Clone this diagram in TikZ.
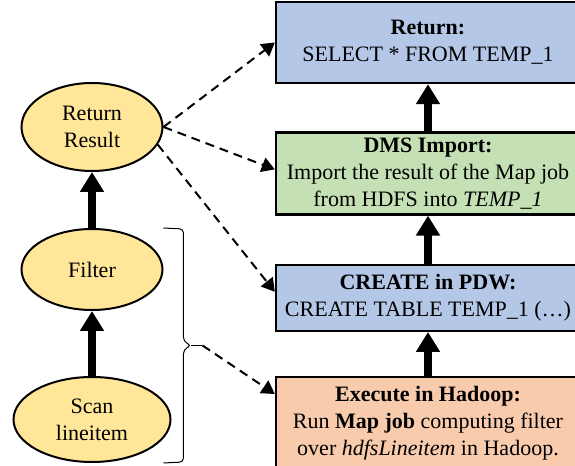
\documentclass[tikz,border=0pt]{standalone}
\usepackage{fontspec}
\setmainfont{Liberation Serif}
\usepackage{tikz}
\usetikzlibrary{shapes.geometric, arrows.meta, positioning, calc}
\definecolor{stepblue}{RGB}{180,199,231}
\definecolor{stepgreen}{RGB}{197,224,180}
\definecolor{steporange}{RGB}{248,203,173}
\definecolor{opyellow}{RGB}{255,230,153}
\tikzset{
  opnode/.style={ellipse, draw=black, line width=1pt, fill=opyellow, inner sep=0pt, minimum width=70.5pt, minimum height=40.5pt, align=center},
  stepbox/.style={rectangle, draw=black, line width=1.2pt, inner sep=0pt, minimum width=152pt, align=center},
  flow/.style={line width=3.8pt, -{Triangle[width=11.5pt,length=10pt]}},
  ship/.style={line width=1pt, dash pattern=on 4.5pt off 3pt, -{Triangle[width=7.5pt,length=6.5pt]}},
}

\begin{document}
\begin{tikzpicture}[font=\fontsize{11}{13.5}\selectfont]
    \useasboundingbox (0,0) rectangle (287.5pt,233pt);
    \node (ret) [stepbox, fill=stepblue, minimum height=40.5pt] at (214pt,211.75pt) {\textbf{Return:}\\SELECT * FROM TEMP\_1};%final step in PDW
    \node (dms) [stepbox, fill=stepgreen, minimum height=41pt, below=23.5pt of ret] {\textbf{DMS Import:}\\Import the result of the Map job\\from HDFS into \textit{TEMP\_1}};%import step
    \node (create) [stepbox, fill=stepblue, minimum height=33pt, below=24pt of dms] {\textbf{CREATE in PDW:}\\CREATE TABLE TEMP\_1 (…)};%temp table
    \node (exec) [stepbox, fill=steporange, minimum height=46.5pt, below=22pt of create] {\textbf{Execute in Hadoop:}\\Run \textbf{Map job} computing filter\\over \textit{hdfsLineitem} in Hadoop.};%map job
    \draw[flow] (exec) -- (create);%exec to create
    \draw[flow] (create) -- (dms);%create to import
    \draw[flow] (dms) -- (ret);%import to return
    \node (res) [opnode, minimum height=44pt] at (46pt,169.5pt) {Return\\Result};%top operator
    \node (filt) [opnode, below=28pt of res] {Filter};%filter operator
    \node (scan) [opnode, minimum width=78.5pt, minimum height=42.5pt, below=32.5pt of filt] {Scan\\lineitem};%scan operator
    \draw[flow] (scan) -- (filt);%scan to filter
    \draw[flow] (filt) -- (res);%filter to result
    \coordinate (brTop) at (filt.east |- filt.north);
    \coordinate (brBot) at (filt.east |- scan.south);
    \coordinate (brMid) at ($(brTop)!0.5!(brBot)$);
    \coordinate (brTip) at ($(brMid)+(19.5pt,0)$);
    \draw[line width=0.5pt, rounded corners=2pt] (brTop) -- ++(10pt,-0.5pt) -- ($(brMid)+(10pt,2pt)$) -- ($(brMid)+(14pt,0)$) -- ($(brMid)+(10pt,-2pt)$) -- ($(brBot)+(10pt,0.5pt)$) -- (brBot);%groups filter and scan
    \draw[line width=0.5pt] ($(brMid)+(14pt,0)$) -- (brTip);%brace tip
    \draw[ship] (brTip) -- ([yshift=-9pt]exec.north west);%brace to exec
    \draw[ship] (res.-15) -- ([yshift=3pt]create.west);%result to create
    \draw[ship] (res.east) -- ([yshift=2pt]dms.west);%result to import
    \draw[ship] (res.east) -- (ret.west);%result to return
  \end{tikzpicture}
\end{document}
